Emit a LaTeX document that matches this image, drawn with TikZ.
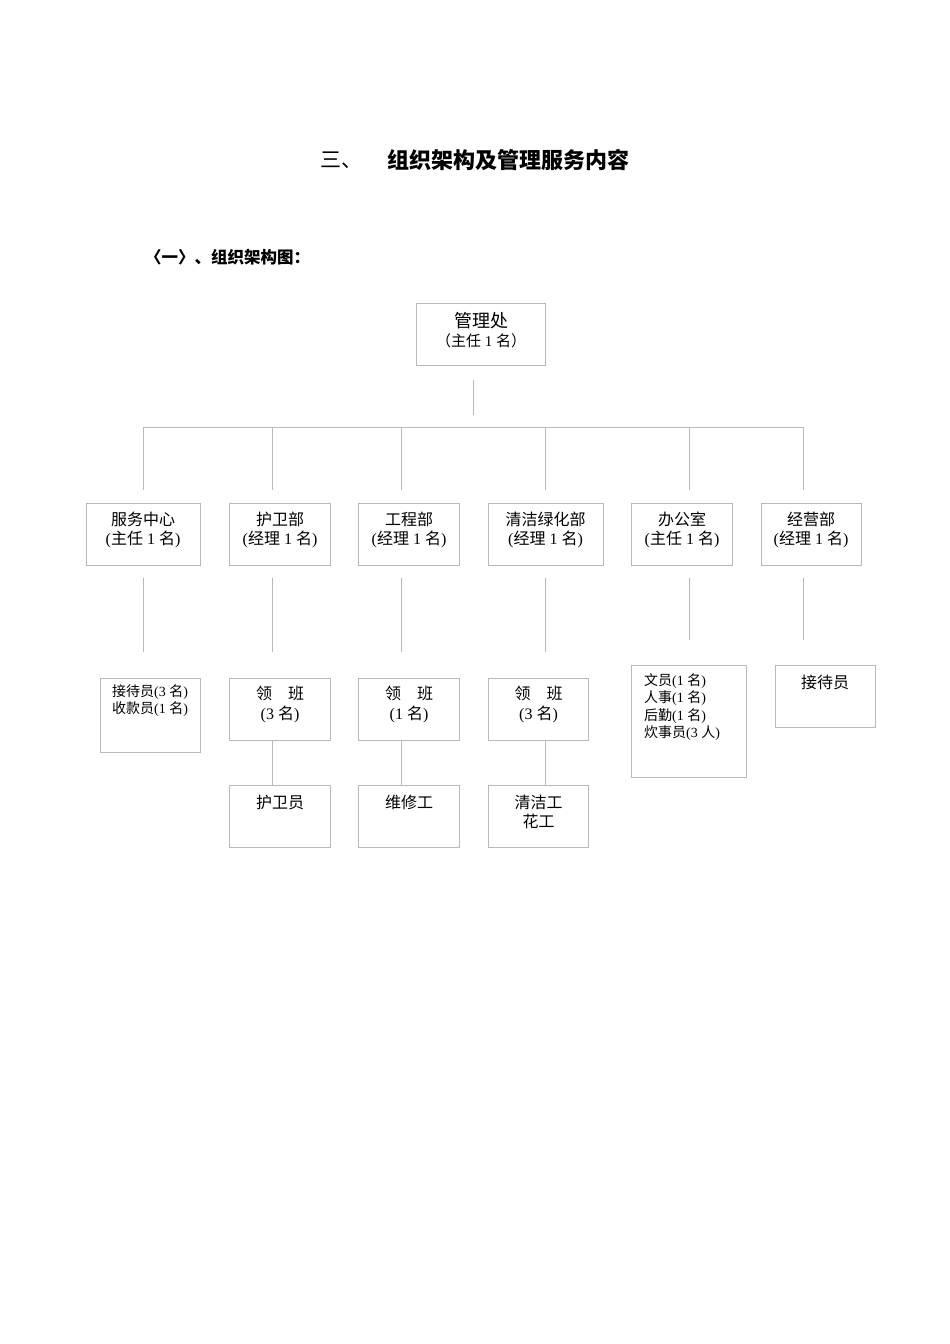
\documentclass[tikz,border=0pt]{standalone}
\usepackage{fontspec}
\setmainfont{Liberation Serif}
\newfontfamily\cjk{Noto Sans CJK SC}
\newcommand\zh[1]{{\cjk #1}}
\tikzset{
  box/.style={draw=black!28, line width=0.8pt, inner sep=0pt, minimum height=62pt},
  link/.style={draw=black!28, line width=0.8pt},
  lbl/.style={inner sep=0pt, align=center, font=\fontsize{16}{19}\selectfont},
  small/.style={inner sep=0pt, align=left, anchor=north west, font=\fontsize{14}{17.5}\selectfont},
}
\begin{document}
\begin{tikzpicture}[x=1pt,y=-1pt]
\useasboundingbox[fill=white] (0,0) rectangle (950,1344);
% titles
\node[anchor=west, inner sep=0pt, font=\cjk\fontsize{21}{24}\selectfont] (t0) at (320,160) {三、};
\node[anchor=west, inner sep=0pt, font=\cjk\bfseries\fontsize{22}{24}\selectfont] (t1) at (387,160) {组织架构及管理服务内容};
\node[anchor=west, inner sep=0pt, font=\cjk\bfseries\fontsize{16.5}{20}\selectfont] (t2) at (145,257) {〈一〉、组织架构图：};
% top
\node[box, minimum width=129pt] (top) at (480.5,334) {};
\node[lbl, font=\fontsize{18}{20}\selectfont] (top-a) at (481,321) {\zh{管理处}};
\node[lbl, font=\fontsize{15}{18}\selectfont] (top-b) at (481,341) {\zh{（主任} 1 \zh{名）}};
% level 2
\node[box, minimum width=114pt] (sv) at (143,534) {};
\node[box, minimum width=101pt] (hw) at (279.5,534) {};
\node[box, minimum width=101pt] (gc) at (408.5,534) {};
\node[box, minimum width=115pt] (qj) at (545.5,534) {};
\node[box, minimum width=101pt] (bg) at (681.5,534) {};
\node[box, minimum width=100pt] (jy) at (811,534) {};
\node[lbl] (sv-t) at (143,529.5) {\zh{服务中心}\\(\zh{主任} 1 \zh{名})};
\node[lbl] (hw-t) at (280,529.5) {\zh{护卫部}\\(\zh{经理} 1 \zh{名})};
\node[lbl] (gc-t) at (409,529.5) {\zh{工程部}\\(\zh{经理} 1 \zh{名})};
\node[lbl] (qj-t) at (545.5,529.5) {\zh{清洁绿化部}\\(\zh{经理} 1 \zh{名})};
\node[lbl] (bg-t) at (682,529.5) {\zh{办公室}\\(\zh{主任} 1 \zh{名})};
\node[lbl] (jy-t) at (811,529.5) {\zh{经营部}\\(\zh{经理} 1 \zh{名})};
% level 3
\node[box, minimum width=100pt, minimum height=74pt] (r1) at (150,715) {};
\node[box, minimum width=101pt] (lb1) at (279.5,709) {};
\node[box, minimum width=101pt] (lb2) at (408.5,709) {};
\node[box, minimum width=100pt] (lb3) at (538,709) {};
\node[box, minimum width=115pt, minimum height=112pt] (wy) at (688.5,721) {};
\node[box, minimum width=100pt] (jd) at (825,696) {};
\node[small] (r1-t) at (112,684) {\zh{接待员}(3 \zh{名})\\\zh{收款员}(1 \zh{名})};
\node[lbl, font=\fontsize{16}{20}\selectfont] (lb1-t) at (280,704) {\zh{领　班}\\(3 \zh{名})};
\node[lbl, font=\fontsize{16}{20}\selectfont] (lb2-t) at (409,704) {\zh{领　班}\\(1 \zh{名})};
\node[lbl, font=\fontsize{16}{20}\selectfont] (lb3-t) at (538.5,704) {\zh{领　班}\\(3 \zh{名})};
\node[small] (wy-t) at (644,673) {\zh{文员}(1 \zh{名})\\\zh{人事}(1 \zh{名})\\\zh{后勤}(1 \zh{名})\\\zh{炊事员}(3 \zh{人})};
\node[lbl] (jd-t) at (825,682) {\zh{接待员}};
% level 4
\node[box, minimum width=101pt] (hwy) at (279.5,816) {};
\node[box, minimum width=101pt] (wxg) at (408.5,816) {};
\node[box, minimum width=100pt] (qjg) at (538,816) {};
\node[lbl] (hwy-t) at (280,802) {\zh{护卫员}};
\node[lbl] (wxg-t) at (409,802) {\zh{维修工}};
\node[lbl] (qjg-t) at (538.5,811.5) {\zh{清洁工}\\\zh{花工}};
% connectors
\coordinate (barL) at (143,427);
\coordinate (barR) at (803,427);
\draw[link] (barL) -- (barR);
\draw[link, shorten <=15pt, shorten >=12pt] ([xshift=-7.5pt]top.south) -- ++(0,62);
\draw[link, shorten <=13pt] ([xshift=0pt]sv.north) -- ++(0,-76);
\draw[link, shorten <=13pt] ([xshift=-7.5pt]hw.north) -- ++(0,-76);
\draw[link, shorten <=13pt] ([xshift=-7.5pt]gc.north) -- ++(0,-76);
\draw[link, shorten <=13pt] ([xshift=-0.5pt]qj.north) -- ++(0,-76);
\draw[link, shorten <=13pt] ([xshift=7.5pt]bg.north) -- ++(0,-76);
\draw[link, shorten <=13pt] ([xshift=-8pt]jy.north) -- ++(0,-76);
\draw[link, shorten <=13pt, shorten >=26pt] (sv.south) -- ([xshift=-7pt]r1.north);
\draw[link, shorten <=13pt, shorten >=26pt] ([xshift=-7.5pt]hw.south) -- ([xshift=-7.5pt]lb1.north);
\draw[link, shorten <=13pt, shorten >=26pt] ([xshift=-7.5pt]gc.south) -- ([xshift=-7.5pt]lb2.north);
\draw[link, shorten <=13pt, shorten >=26pt] ([xshift=-0.5pt]qj.south) -- ([xshift=7pt]lb3.north);
\draw[link, shorten <=13pt, shorten >=25pt] ([xshift=7.5pt]bg.south) -- ([xshift=0.5pt]wy.north);
\draw[link, shorten <=13pt, shorten >=25pt] ([xshift=-8pt]jy.south) -- ([xshift=-22pt]jd.north);
\draw[link] ([xshift=-7.5pt]lb1.south) -- ([xshift=-7.5pt]hwy.north);
\draw[link] ([xshift=-7.5pt]lb2.south) -- ([xshift=-7.5pt]wxg.north);
\draw[link] ([xshift=7pt]lb3.south) -- ([xshift=7pt]qjg.north);
\end{tikzpicture}
\end{document}
